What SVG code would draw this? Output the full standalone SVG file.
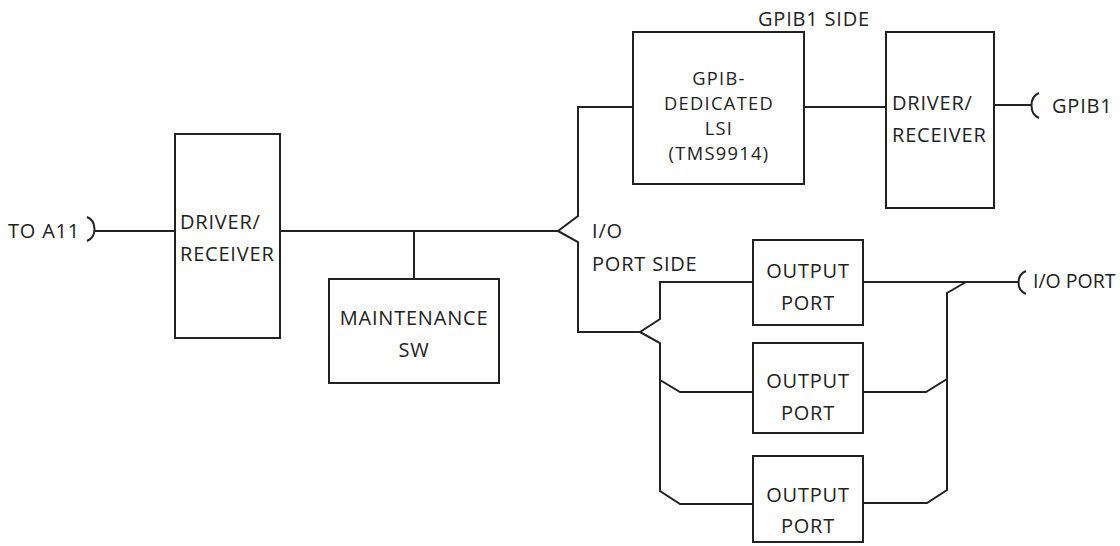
<svg xmlns="http://www.w3.org/2000/svg" width="1120" height="546" viewBox="0 0 1120 546">
<style>
.box{fill:none;stroke:#222;stroke-width:2}
.ln{fill:none;stroke:#222;stroke-width:2;stroke-linejoin:miter}
text{font-family:"Open Sans","Noto Sans",sans-serif;font-size:20px;fill:#222;letter-spacing:0.8px}
.c{text-anchor:middle}
.s{font-size:18.3px;letter-spacing:1.3px}
.t{font-size:19.5px;letter-spacing:0}
</style>
<rect width="1120" height="546" fill="#fff"/>
<g id="connectors">
<path class="ln" d="M87,217 C97,221 97,237 87,241"/>
<path class="ln" d="M95,231 H175"/>
<path class="ln" d="M280,231 H558 L578,216 V107 H633"/>
<path class="ln" d="M558,231 L578,242 V332 H640 L660,319 V282 H753"/>
<path class="ln" d="M640,332 L660,343 V380 L680,392 H753"/>
<path class="ln" d="M660,380 V491 L680,504 H753"/>
<path class="ln" d="M414,231 V279"/>
<path class="ln" d="M804,107 H886"/>
<path class="ln" d="M994,105 H1031"/>
<path class="ln" d="M1039,93 C1029,97 1029,114 1039,118"/>
<path class="ln" d="M863,282 H1018"/>
<path class="ln" d="M1026,271 C1016,275 1016,290 1026,294"/>
<path class="ln" d="M966,282 L947,293 V490 L927,503 H863"/>
<path class="ln" d="M863,392 H926 L947,379"/>
</g>
<g id="to-a11"><text x="8" y="238">TO A11</text></g>
<g id="driver1">
<rect class="box" x="175" y="134" width="105" height="204"/>
<text x="180" y="229">DRIVER/</text>
<text x="180" y="261">RECEIVER</text>
</g>
<g id="maintenance">
<rect class="box" x="329" y="279" width="170" height="104"/>
<text class="c" x="414" y="325">MAINTENANCE</text>
<text class="c" x="414" y="357">SW</text>
</g>
<g id="io-label">
<text x="592" y="238">I/O</text>
<text x="592" y="271">PORT SIDE</text>
</g>
<g id="gpib-side-label"><text x="758" y="26">GPIB1 SIDE</text></g>
<g id="lsi">
<rect class="box" x="633" y="32" width="171" height="152"/>
<text class="c s" x="719" y="85">GPIB-</text>
<text class="c s" x="719" y="110">DEDICATED</text>
<text class="c s" x="719" y="135">LSI</text>
<text class="c s" x="719" y="160">(TMS9914)</text>
</g>
<g id="driver2">
<rect class="box" x="886" y="32" width="108" height="176"/>
<text x="892" y="110">DRIVER/</text>
<text x="892" y="142">RECEIVER</text>
</g>
<g id="gpib1"><text x="1052" y="113">GPIB1</text></g>
<g id="io-port"><text class="t" x="1033" y="288">I/O PORT</text></g>
<g id="out1">
<rect class="box" x="753" y="240" width="110" height="85"/>
<text class="c" x="808" y="278">OUTPUT</text>
<text class="c" x="808" y="310">PORT</text>
</g>
<g id="out2">
<rect class="box" x="753" y="343" width="110" height="90"/>
<text class="c" x="808" y="388">OUTPUT</text>
<text class="c" x="808" y="420">PORT</text>
</g>
<g id="out3">
<rect class="box" x="753" y="456" width="110" height="86"/>
<text class="c" x="808" y="502">OUTPUT</text>
<text class="c" x="808" y="533">PORT</text>
</g>
</svg>
